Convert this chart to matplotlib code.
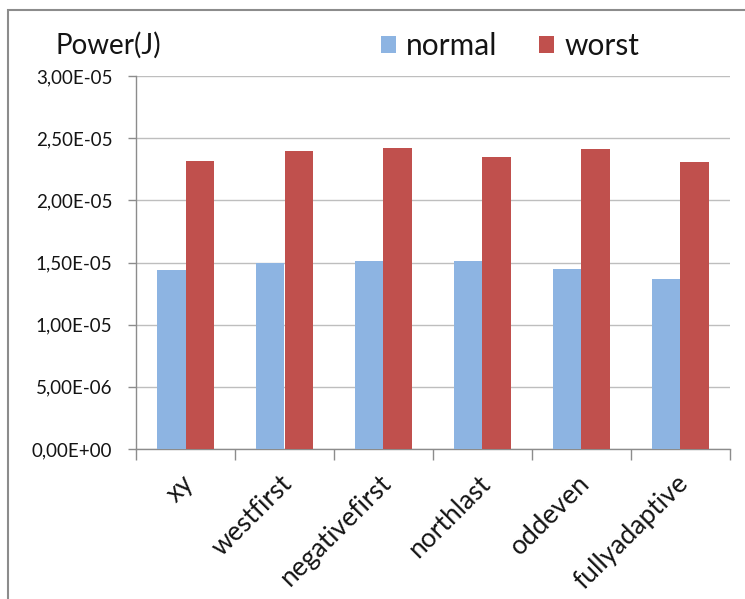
import matplotlib
import matplotlib.pyplot as plt
import numpy as np
from matplotlib.patches import Rectangle
from matplotlib.ticker import FixedLocator, FuncFormatter

matplotlib.use("Agg")

categories = ["xy", "westfirst", "negativefirst", "northlast", "oddeven", "fullyadaptive"]
normal = [1.44e-5, 1.50e-5, 1.51e-5, 1.51e-5, 1.45e-5, 1.37e-5]
worst = [2.32e-5, 2.40e-5, 2.42e-5, 2.35e-5, 2.41e-5, 2.31e-5]
series_names = ["normal", "worst"]

BLUE = "#8DB4E2"
RED = "#C0504D"
FONT = "Lato"
INK = "#141414"

W, H = 745, 599
fig = plt.figure(figsize=(W / 100, H / 100), dpi=100)
ax = fig.add_axes([136 / W, 1 - 449 / H, (730 - 136) / W, (449 - 76) / H])

x = np.arange(len(categories))
bw = 0.29
ax.bar(x - bw / 2, normal, bw, color=BLUE, label=series_names[0], zorder=3)
ax.bar(x + bw / 2, worst, bw, color=RED, label=series_names[1], zorder=3)

ax.set_xlim(-0.5, len(categories) - 0.5)
ax.set_ylim(0, 3e-5)
ax.set_yticks(np.arange(0, 3.01e-5, 5e-6))


def sci_comma(v, pos):
    # excel style: 2,50E-05
    return f"{v:.2E}".replace(".", ",")


ax.yaxis.set_major_formatter(FuncFormatter(sci_comma))
ax.grid(axis="y", color="#BEBEBE", lw=1.0, zorder=0)
ax.set_axisbelow(True)

for side in ["top", "right"]:
    ax.spines[side].set_visible(False)
for side in ["left", "bottom"]:
    ax.spines[side].set_color("#8C8C8C")
    ax.spines[side].set_linewidth(1.0)

ax.tick_params(axis="y", length=6, width=1, color="#8C8C8C", pad=11,
               labelsize=13.5, labelcolor=INK)
for lab in ax.get_yticklabels():
    lab.set_family(FONT)

ax.set_xticks(x)
ax.set_xticklabels(categories, rotation=45, ha="right", va="center",
                   rotation_mode="anchor", family=FONT, fontsize=19, color=INK)
ax.tick_params(axis="x", which="major", length=0, pad=22)
ax.xaxis.set_minor_locator(FixedLocator(np.arange(-0.5, len(categories), 1.0)))
ax.tick_params(axis="x", which="minor", length=8, width=1, color="#8C8C8C")
shift = matplotlib.transforms.ScaledTranslation(4 / 100, 0, fig.dpi_scale_trans)
for lab in ax.get_xticklabels():
    lab.set_transform(lab.get_transform() + shift)

fig.text(55 / W, 1 - 45 / H, "Power(J)", family=FONT, fontsize=20,
         ha="left", va="center", color=INK)

leg = ax.legend(loc="center", bbox_to_anchor=(510 / W, 1 - 46 / H),
                bbox_transform=fig.transFigure, ncol=2, frameon=False,
                prop={"family": FONT, "size": 21.5}, handlelength=0.5,
                handleheight=0.5, handletextpad=0.35, columnspacing=1.4,
                borderpad=0)
for t in leg.get_texts():
    t.set_color(INK)

fig.patches.append(Rectangle((8 / W, -0.1), 1.2, 1.1 - 10 / H, transform=fig.transFigure,
                             fill=False, edgecolor="#8C8C8C", lw=1.5, clip_on=False))

fig.savefig("out.png", dpi=100)
